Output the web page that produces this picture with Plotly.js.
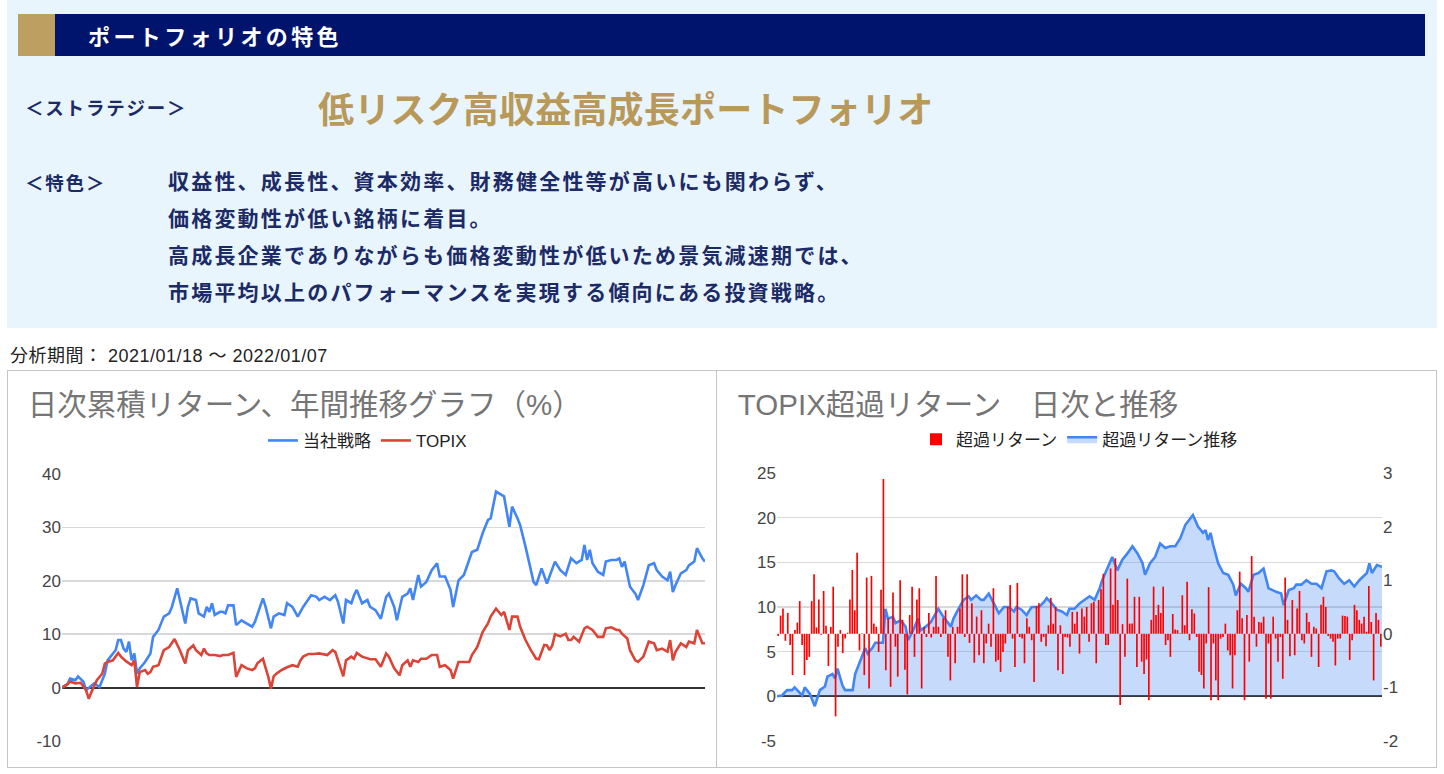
<!DOCTYPE html>
<html>
<head>
<meta charset="utf-8">
<script src="https://cdn.plot.ly/plotly-3.0.1.min.js"></script>
<style>
  html, body { margin:0; padding:0; background:#ffffff; width:1444px; height:774px; overflow:hidden; }
  .abs { position:absolute; white-space:nowrap; }
  .jp { font-family:"Noto Sans CJK JP","Noto Sans",sans-serif; }
</style>
</head>
<body>
<script>
// ---------- Chart data ----------
// Left chart: cumulative daily return (%), x = trading day index
const stratDay = [
  0,2,3,5,6,8,9,12,14,16,
  17,20,21,22,23,24,25,26,27,28,
  29,31,33,34,36,38,40,41,43,44,
  46,47,48,50,51,53,54,55,56,57,
  59,60,61,62,64,65,67,69,71,72,
  74,75,76,78,79,81,83,84,86,88,
  90,91,93,95,96,98,100,102,103,105,
  106,108,109,110,112,114,115,117,119,121,
  122,124,125,127,129,130,131,133,134,136,
  138,140,141,143,145,146,148,150,152,153,
  155,157,159,160,162,164,165,167,168,170,
  171,173,175,176,177,179,181,183,184,186,
  188,190,192,194,195,196,197,198,200,202,
  203,205,207,208,209,210,212,214,215,217,
  219,221,222,224,226,227,228,229,231,233,
  234,236,237,239,240];
const stratRet = [
  0,0.6,1.7,1.4,2.1,1.1,-0.5,0.8,0.1,2.6,
  5.1,7.0,8.9,8.9,7.3,6.7,8.6,5.1,6.4,2.6,
  3.6,4.8,6.4,9.5,10.8,13.3,13.9,15.1,18.6,16.4,
  12.0,15.1,16.7,16.4,13.9,13.3,15.1,14.2,15.8,13.6,
  14.2,14.2,13.9,15.4,15.4,11.7,12.6,12.0,11.4,12.3,
  15.1,16.7,15.1,11.1,13.3,13.9,13.6,15.8,15.1,13.3,
  15.1,15.8,17.3,17.0,16.4,17.0,16.4,17.3,16.1,12.0,
  16.4,15.8,17.3,18.3,15.8,16.4,15.1,14.5,12.9,17.0,
  17.6,15.1,12.6,17.0,17.6,18.6,16.4,21.1,18.9,19.8,
  22.0,23.3,20.8,20.8,18.3,15.1,20.1,21.1,23.9,25.4,
  25.8,28.9,31.4,31.7,36.7,36.1,35.8,30.1,33.9,31.7,
  30.4,26.4,22.0,19.8,19.2,22.3,19.5,22.0,23.6,22.0,
  21.1,24.2,23.3,23.9,26.7,23.9,25.8,23.3,21.7,21.1,
  23.6,23.9,23.9,24.2,22.6,23.6,18.9,17.6,16.4,19.2,
  22.9,23.3,22.0,20.8,20.1,21.7,17.9,19.2,21.4,22.0,
  22.9,23.6,26.1,24.2,23.6];
const topixDay = [
  0,2,3,5,7,9,10,11,13,15,
  16,17,19,21,22,24,26,27,28,29,
  31,32,33,34,36,38,40,42,44,46,
  47,49,50,52,53,54,55,57,59,60,
  62,64,65,67,69,71,72,73,75,77,
  78,79,80,82,84,86,88,89,90,92,
  94,96,99,101,102,103,105,106,108,109,
  110,112,114,115,117,119,121,122,124,126,
  127,129,130,131,133,134,136,138,140,141,
  143,145,146,148,150,152,153,155,157,159,
  160,162,164,165,167,168,170,171,173,175,
  177,178,180,181,182,183,184,186,188,189,
  190,191,193,195,196,198,200,202,203,205,
  207,208,209,211,212,214,215,217,219,221,
  222,224,226,227,228,229,231,233,234,236,
  237,239,240];
const topixRet = [
  0.0,0.6,1.1,0.8,0.9,-0.5,-2.1,-0.8,1.4,2.6,
  4.5,4.8,5.1,6.5,5.8,4.9,4.2,5.1,0.1,2.9,
  3.3,2.6,2.9,3.9,4.2,7.0,7.6,9.1,7.0,4.5,
  7.0,7.9,7.0,6.1,7.3,6.4,6.1,6.1,5.9,6.1,
  6.1,6.5,2.0,4.2,3.6,3.3,3.6,4.6,5.4,2.0,
  -0.2,2.1,2.6,3.3,3.8,4.2,3.9,5.1,5.8,6.3,
  6.3,6.4,6.1,7.0,6.7,5.1,2.1,5.1,5.8,5.4,
  6.5,5.8,5.4,5.3,5.3,3.9,6.4,5.8,3.6,2.3,
  4.2,5.1,3.9,5.1,4.8,5.4,5.4,6.1,6.1,3.9,
  4.2,3.3,1.7,4.8,4.8,4.8,6.1,7.6,10.4,12.0,
  13.3,14.8,13.6,14.2,10.8,13.3,13.3,11.4,8.9,7.0,
  5.4,5.3,8.0,7.9,7.0,7.9,10.0,9.6,10.1,8.9,
  8.9,9.5,8.6,11.1,11.4,10.8,9.5,9.5,11.1,11.3,
  10.8,10.8,10.1,9.2,7.0,5.1,4.8,5.8,8.6,8.3,
  7.0,7.3,6.7,8.9,5.1,6.7,8.3,7.6,8.6,8.3,
  10.8,8.3,8.3];

// Right chart: daily excess return vs TOPIX (%), one value per trading day (right axis)
const dailyExcess = [
  -0.04,0.34,0.47,-0.13,0.39,-0.21,-0.77,0.07,0.21,0.61,
  -0.21,-0.77,-0.49,-0.43,0.61,1.11,0.12,0.64,-0.02,0.80,
  0.15,-0.60,0.13,0.88,-1.54,-0.24,0.07,-0.36,-0.09,0.02,
  0.64,1.19,0.44,1.51,-0.31,0.01,-0.77,1.05,-1.02,1.08,
  0.19,0.13,-0.34,0.82,2.89,-0.68,0.29,-0.99,0.77,-0.24,
  -0.80,1.00,0.26,-0.67,-1.13,0.35,0.88,-0.43,0.64,0.85,
  -1.02,0.12,-0.06,0.39,-0.07,0.13,1.08,0.13,-0.06,0.29,
  0.44,-0.43,-0.87,0.13,-0.55,0.13,0.47,1.11,-0.06,1.11,
  -0.17,0.57,-0.54,0.32,-0.40,0.44,-0.55,-0.18,
  0.19,-0.24,0.85,-0.52,-0.49,-0.71,-0.34,-0.18,0.50,0.91,
  -0.09,-0.62,0.95,-0.06,-0.09,-0.55,0.29,0.13,-0.12,-0.90,
  0.52,0.57,-0.15,-0.06,-0.23,0.16,0.67,0.19,0.50,-0.68,
  0.16,-0.75,-0.06,-0.07,-0.24,0.41,0.19,0.41,-0.37,0.47,
  0.32,0.50,-0.15,0.57,0.60,-0.55,0.63,0.83,1.12,-0.21,
  -0.21,1.22,0.54,1.41,0.63,-1.33,0.18,-0.43,1.03,0.19,
  0.19,0.69,-0.62,0.69,-0.52,-0.75,-0.48,-1.24,0.26,0.88,
  0.35,0.54,0.39,0.88,-0.21,-0.12,-0.43,0.37,0.08,0.07,
  0.01,0.72,0.16,0.97,-0.12,0.46,
  0.38,-0.06,-0.71,-0.77,-1.02,-0.18,0.87,-1.24,-0.18,-0.87,
  -1.24,-0.09,-0.06,0.19,-0.31,-0.40,-1.02,-0.40,0.44,1.16,
  0.29,-1.24,0.35,-0.52,1.45,0.32,-0.24,0.22,0.21,0.32,
  -1.21,-0.18,-1.21,0.32,-0.09,-0.52,-0.06,-0.84,1.05,0.26,
  -0.42,0.63,-0.40,0.47,0.80,-0.12,-0.18,0.39,0.22,-0.43,
  0.13,0.10,-0.62,0.54,0.69,0.50,-0.04,-0.09,-0.15,-0.59,
  -0.09,-0.09,0.34,0.33,0.32,-0.49,-0.12,0.54,0.44,0.26,
  0.19,0.32,0.04,0.89,0.22,-0.87,0.39,0.26,-0.24];

// Right chart: cumulative excess return (%), left axis
const excessDay = [
  0,2,4,6,7,8,10,11,13,15,
  17,19,20,22,23,24,26,27,30,31,
  33,35,36,38,39,42,43,44,46,47,
  49,51,52,54,56,57,59,61,64,66,
  69,70,72,74,76,77,79,81,82,84,
  86,88,90,92,94,95,97,99,101,104,
  106,107,109,111,113,115,116,118,120,122,
  124,126,128,129,131,133,135,137,139,141,
  143,145,146,148,150,152,154,156,158,160,
  162,165,167,169,170,171,172,173,175,177,
  179,181,182,184,186,187,189,191,193,195,
  198,200,201,203,205,206,208,210,212,214,
  216,218,220,221,223,225,227,229,231,233,
  234,235,236,238,240];
const excessCum = [
  0,0.1,0.7,0.7,1.0,0.7,0.1,1.0,0.3,-1.1,
  0.7,1.1,2.2,2.5,2.0,3.1,1.2,0.7,0.7,2.5,
  4.0,5.4,4.8,5.5,6.0,6.0,9.8,8.7,8.9,8.2,
  8.5,7.8,6.3,7.4,8.7,7.4,7.8,8.3,9.8,8.9,
  7.8,8.7,9.8,10.8,11.2,10.8,11.3,10.8,10.8,11.5,
  10.4,9.3,10.0,10.0,9.5,10.0,9.7,9.1,10.0,10.0,
  10.6,11.0,10.4,9.7,9.5,9.1,9.8,9.8,10.4,10.8,
  11.2,10.8,12.1,13.0,14.3,15.6,14.1,15.3,16.0,16.8,
  16.0,14.9,13.6,14.9,15.6,17.1,16.6,16.8,16.8,17.7,
  19.2,20.3,19.0,18.3,18.6,17.5,18.3,17.0,14.9,13.8,
  13.6,12.5,11.3,12.6,12.1,11.7,13.6,13.8,14.3,12.1,
  11.7,11.5,10.2,11.9,12.1,12.5,12.5,13.0,12.6,12.6,
  12.1,14.0,14.1,14.0,13.2,12.6,13.0,12.3,13.0,13.6,
  13.8,14.9,13.8,14.7,14.5];

// Tick labels
const leftTickVals = [-10,0,10,20,30,40];
const leftTickText = ['-10','0','10','20','30','40'];
const rightLTickVals = [-5,0,5,10,15,20,25];
const rightLTickText = ['-5','0','5','10','15','20','25'];
const rightRTickVals = [-2,-1,0,1,2,3];
const rightRTickText = ['-2','-1','0','1','2','3'];

// Texts
const headerTitle = 'ポートフォリオの特色';
const strategyLabel = '＜ストラテジー＞';
const strategyName = '低リスク高収益高成長ポートフォリオ';
const featureLabel = '＜特色＞';
const featureLines = [
  '収益性、成長性、資本効率、財務健全性等が高いにも関わらず、',
  '価格変動性が低い銘柄に着目。',
  '高成長企業でありながらも価格変動性が低いため景気減速期では、',
  '市場平均以上のパフォーマンスを実現する傾向にある投資戦略。'
];
const periodText = '分析期間： 2021/01/18 ～ 2022/01/07';
const leftTitle = '日次累積リターン、年間推移グラフ（%）';
const rightTitle = 'TOPIX超過リターン　日次と推移';
</script>

<!-- Info panel -->
<div class="abs" style="left:7px;top:0;width:1430px;height:328px;background:#E8F5FD;"></div>
<div class="abs" style="left:18px;top:14px;width:37px;height:42px;background:#BE9F62;"></div>
<div class="abs" style="left:55px;top:14px;width:1370px;height:42px;background:#00136D;"></div>
<div id="hdr" class="abs jp" style="left:88px;top:14px;height:42px;line-height:42px;font-size:22px;font-weight:700;color:#ffffff;letter-spacing:3.4px;"></div>
<div id="slabel" class="abs jp" style="left:25px;top:92px;height:30px;line-height:30px;font-size:18.5px;font-weight:700;color:#1C2A66;letter-spacing:1.8px;"></div>
<div id="sname" class="abs jp" style="left:318px;top:86px;height:42px;line-height:42px;font-size:36px;font-weight:700;color:#B8995A;letter-spacing:0.2px;"></div>
<div id="flabel" class="abs jp" style="left:25px;top:167px;height:30px;line-height:30px;font-size:18.5px;font-weight:700;color:#1C2A66;letter-spacing:1.8px;"></div>
<div id="flines" class="abs jp" style="left:168px;top:162px;line-height:37px;font-size:21px;font-weight:700;color:#1C2A66;letter-spacing:2.2px;"></div>
<div id="period" class="abs" style="left:10px;top:345px;height:22px;line-height:22px;font-size:18px;color:#222;letter-spacing:0.5px;font-family:'Liberation Sans','Noto Sans CJK JP',sans-serif;"></div>

<!-- Charts -->
<div id="leftChart" class="abs" style="left:8px;top:371px;width:708px;height:396px;"></div>
<div id="rightChart" class="abs" style="left:717px;top:371px;width:719px;height:396px;"></div>
<div class="abs" style="left:7px;top:370px;width:708px;height:396px;border:1px solid #C4C4C4;pointer-events:none;"></div>
<div class="abs" style="left:716px;top:370px;width:719px;height:396px;border:1px solid #C4C4C4;pointer-events:none;"></div>

<script>
document.getElementById('hdr').textContent = headerTitle;
document.getElementById('slabel').textContent = strategyLabel;
document.getElementById('sname').textContent = strategyName;
document.getElementById('flabel').textContent = featureLabel;
document.getElementById('flines').innerHTML = featureLines.map(s => '<div>' + s + '</div>').join('');
document.getElementById('period').textContent = periodText;

const FONT = '"Liberation Sans", Arial, "Noto Sans CJK JP", sans-serif';
const cfg = {displayModeBar:false, staticPlot:true};

// ---------- Left chart ----------
Plotly.newPlot('leftChart', [
  {x: stratDay, y: stratRet, type:'scatter', mode:'lines', name:'当社戦略',
   line:{color:'#4285F4', width:2.6}},
  {x: topixDay, y: topixRet, type:'scatter', mode:'lines', name:'TOPIX',
   line:{color:'#DB4437', width:2.6}}
], {
  width:708, height:396,
  margin:{l:54, r:11, t:103, b:26, pad:0},
  paper_bgcolor:'#ffffff', plot_bgcolor:'#ffffff',
  font:{family:FONT, size:15, color:'#222'},
  title:{text:leftTitle, font:{family:FONT, size:29.5, color:'#757575'},
         x:0.028, xanchor:'left', xref:'container', y:0.914, yanchor:'middle', yref:'container'},
  xaxis:{range:[0,240], showgrid:false, zeroline:false, showticklabels:false, showline:false, ticks:''},
  yaxis:{range:[-10,40], tickvals:leftTickVals, ticktext:leftTickText, showgrid:true,
         gridcolor:'#D9D9D9', gridwidth:1.5, zeroline:true, zerolinecolor:'#333333', zerolinewidth:2,
         showline:false, ticks:'', tickfont:{size:17, color:'#444'}},
  showlegend:true,
  legend:{orientation:'h', x:0.475, xanchor:'center', y:1.124, yanchor:'middle',
          font:{family:FONT, size:17, color:'#222'}, bgcolor:'rgba(0,0,0,0)', itemwidth:30}
}, cfg);

// ---------- Right chart ----------
Plotly.newPlot('rightChart', [
  {y: dailyExcess, type:'bar', name:'超過リターン', marker:{color:'#FF0000', line:{width:0}},
   xaxis:'x2', yaxis:'y2'},
  {x: excessDay, y: excessCum, type:'scatter', mode:'lines', name:'超過リターン推移',
   fill:'tozeroy', fillcolor:'rgba(66,133,244,0.3)', line:{color:'#4285F4', width:2.6},
   xaxis:'x', yaxis:'y'}
], {
  width:719, height:396,
  margin:{l:60, r:54, t:102, b:26, pad:0},
  paper_bgcolor:'#ffffff', plot_bgcolor:'#ffffff',
  font:{family:FONT, size:15, color:'#222'},
  title:{text:rightTitle, font:{family:FONT, size:29.5, color:'#757575'},
         x:0.029, xanchor:'left', xref:'container', y:0.914, yanchor:'middle', yref:'container'},
  bargap:0.3,
  xaxis:{range:[0,240], showgrid:false, zeroline:false, showticklabels:false, showline:false, ticks:''},
  xaxis2:{overlaying:'x', range:[-0.5, dailyExcess.length - 0.5], showgrid:false, zeroline:false,
          showticklabels:false, showline:false, ticks:''},
  yaxis:{range:[-5,25], tickvals:rightLTickVals, ticktext:rightLTickText, side:'left', showgrid:true,
         gridcolor:'#D9D9D9', gridwidth:1.5, zeroline:true, zerolinecolor:'#333333', zerolinewidth:2,
         showline:false, ticks:'', tickfont:{size:17, color:'#444'}},
  yaxis2:{overlaying:'y', side:'right', range:[-2,3], tickvals:rightRTickVals, ticktext:rightRTickText,
          showgrid:false, zeroline:false, showline:false, ticks:'', tickfont:{size:17, color:'#444'}},
  showlegend:true,
  legend:{orientation:'h', x:0.5, xanchor:'center', y:1.124, yanchor:'middle', traceorder:'normal',
          font:{family:FONT, size:17, color:'#222'}, bgcolor:'rgba(0,0,0,0)', itemwidth:30}
}, cfg);
</script>
</body>
</html>
